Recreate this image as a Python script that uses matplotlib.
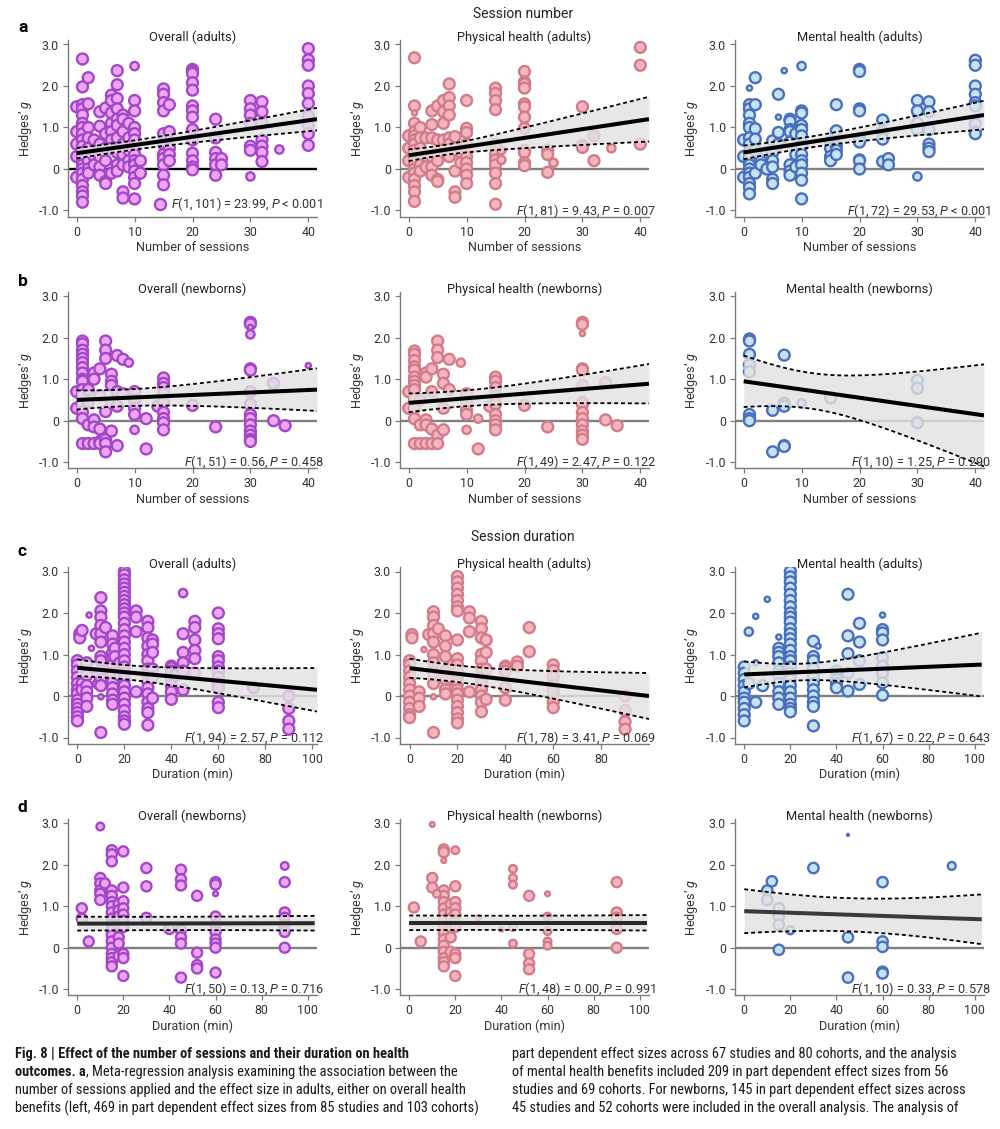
import matplotlib
matplotlib.use('Agg')
import matplotlib.pyplot as plt
import numpy as np
from matplotlib.lines import Line2D

plt.rcParams['font.family'] = ['Roboto', 'DejaVu Sans']
plt.rcParams['axes.unicode_minus'] = False
plt.rcParams['mathtext.fontset'] = 'custom'
plt.rcParams['mathtext.it'] = 'Roboto:italic'
plt.rcParams['mathtext.rm'] = 'Roboto'

# ---------------- data ----------------
# groups: (x, weight class 3=large 2=medium 1=small 0=tiny, [Hedges' g values])
a_overall = [
    (0, 3, [1.5, 0.9, 0.6, 0.3, -0.2]),
    (1, 3, [2.65, 1.98, 1.55, 1.45, 1.3, 1.1, 1.0, 0.85, 0.7, 0.55, 0.4, 0.3, 0.2, 0.1, 0.0, -0.1, -0.25, -0.4, -0.55, -0.65, -0.8]),
    (2, 3, [2.2, 1.57, 1.0, 0.75, 0.5, 0.2, 0.0, -0.1]),
    (3, 3, [0.7, 0.3, 0.1]),
    (4, 3, [1.38, 1.03, 0.6, 0.3, 0.05, -0.15]),
    (5, 3, [1.47, 0.85, 0.5, 0.2, -0.3, -0.35]),
    (6, 3, [1.78, 1.65, 1.35, 1.1, 0.9, 0.7, 0.5, -0.1]),
    (7, 3, [2.37, 2.03, 1.7, 1.45, 1.2, 1.05, 0.75, 0.4, 0.1, -0.05]),
    (8, 3, [1.3, 1.2, 0.9, 0.6, 0.35, 0.1, -0.55, -0.7]),
    (9, 3, [1.1, 0.75, 0.45, 0.2, 0.05]),
    (10, 3, [1.65, 1.4, 1.0, 0.85, 0.7, 0.5, 0.35, 0.2, 0.1, -0.05, -0.2, -0.35, -0.72]),
    (10, 2, [2.48]),
    (11, 3, [0.2, -0.1]),
    (15, 3, [1.93, 1.8, 1.6, 1.4, 0.85, 0.6, 0.35, 0.25, 0.1, -0.15, -0.38]),
    (16, 3, [1.55, 0.9, 0.5, 0.35, 0.2]),
    (20, 3, [2.4, 2.35, 2.3, 2.08, 1.9, 1.52, 1.4, 1.25, 0.95, 0.7, 0.38, 0.2, 0.05, -0.02]),
    (24, 3, [1.2, 0.75, 0.4, 0.25, 0.1, -0.15]),
    (25, 3, [0.25, 0.1]),
    (30, 3, [1.65, 1.45, 1.3, 1.1, 0.55, 0.45]),
    (30, 2, [-0.18]),
    (32, 3, [1.62, 1.38, 1.1, 0.7, 0.55, 0.4, 0.18]),
    (35, 2, [0.47]),
    (40, 3, [2.9, 2.63, 2.5, 2.0, 1.82, 1.58, 1.28, 1.05, 0.85, 0.57]),
]
a_physical = [
    (0, 3, [0.8, 0.5, 0.2, -0.2]),
    (1, 3, [2.68, 1.52, 1.1, 0.9, 0.8, 0.7, 0.6, 0.45, 0.3, 0.15, 0.0, -0.1, -0.25, -0.4, -0.55, -0.78]),
    (1, 1, [1.35]),
    (2, 3, [1.0, 0.75, 0.5, 0.1, -0.05]),
    (3, 3, [0.75, 0.3, 0.05]),
    (4, 3, [1.4, 1.07, 0.75, 0.3, 0.05, -0.15]),
    (5, 3, [1.52, 0.7, 0.4, 0.2, -0.25, -0.3]),
    (6, 3, [1.65, 1.38, 1.1, 0.7]),
    (7, 3, [2.05, 1.72, 1.52, 1.3, 0.75, 0.6, 0.3]),
    (8, 3, [0.78, 0.5, -0.05, -0.55, -0.68]),
    (9, 3, [0.4, 0.15]),
    (10, 3, [1.65, 0.98, 0.88, 0.6, 0.45, 0.3, 0.15, 0.0, -0.15, -0.35]),
    (15, 3, [1.95, 1.82, 1.65, 1.43, 0.6, 0.35, 0.22, 0.1, -0.1, -0.35, -0.85]),
    (16, 2, [0.45, 0.22]),
    (20, 3, [2.35, 2.1, 2.05, 1.95, 1.57, 1.5, 1.25, 0.98, 0.45, 0.4, 0.15, 0.08]),
    (24, 3, [0.45, 0.35, -0.08]),
    (25, 2, [0.15]),
    (30, 3, [1.5, 0.57, 0.52]),
    (32, 3, [0.8, 0.2]),
    (35, 2, [0.5]),
    (40, 3, [2.93, 2.5, 0.6]),
]
a_mental = [
    (0, 3, [0.7, 0.3, -0.2]),
    (1, 3, [1.55, 1.45, 1.3, 1.1, 1.0, 0.75, 0.6, 0.4, 0.25, 0.1, 0.0, -0.1, -0.2, -0.35, -0.45, -0.6]),
    (1, 1, [1.95]),
    (2, 3, [2.2, 1.55, 0.97, 0.72, 0.45, -0.1]),
    (3, 3, [0.2, 0.1]),
    (4, 3, [0.4, 0.0]),
    (5, 3, [0.68, 0.4, 0.2, 0.05, -0.25, -0.35]),
    (6, 3, [1.8, 0.88, 0.6]),
    (6, 1, [1.25]),
    (7, 1, [2.37]),
    (8, 3, [1.2, 1.15, 0.95, 0.9, 0.65, 0.1, -0.05, -0.15]),
    (9, 3, [0.85, 0.35, 0.05]),
    (10, 3, [1.4, 1.35, 1.05, 0.95, 0.8, 0.55, 0.35, 0.2, 0.1, -0.1, -0.27, -0.72]),
    (10, 2, [2.48]),
    (15, 3, [0.65, 0.5, 0.3, 0.2]),
    (16, 3, [1.55, 0.92, 0.55, 0.45, 0.35]),
    (20, 3, [2.4, 2.35, 1.45, 1.4, 0.72, 0.65, 0.22, 0.2, 0.0]),
    (24, 3, [1.18, 0.9, 0.72, 0.18]),
    (25, 3, [0.25, 0.1]),
    (30, 3, [1.65, 1.4, 1.1, 0.95]),
    (30, 2, [-0.18]),
    (32, 3, [1.62, 1.38, 0.95, 0.6, 0.5, 0.42]),
    (40, 3, [2.62, 2.5, 2.0, 1.8, 1.6, 1.52, 1.08, 0.9, 0.85]),
]
b_overall = [
    (0, 3, [0.7, 0.3]),
    (1, 3, [1.92, 1.85, 1.7, 1.6, 1.5, 1.4, 1.28, 1.15, 1.0, 0.95, 0.75, 0.6, 0.4, 0.2, 0.05, -0.55]),
    (2, 3, [0.75, 0.45, -0.1, -0.55]),
    (3, 3, [1.15, 1.0, 0.02, -0.15, -0.55]),
    (4, 3, [1.25, 0.6, -0.2, -0.5, -0.55]),
    (5, 3, [1.92, 1.7, 1.5, 0.22, -0.45, -0.55, -0.75]),
    (6, 3, [1.12, 0.95, 0.85, 0.45, -0.25]),
    (7, 3, [1.57, 0.7, 0.35, -0.6]),
    (8, 3, [1.48, 0.65]),
    (9, 2, [1.4]),
    (10, 3, [0.7, 0.5, 0.3, 0.15]),
    (10, 2, [-0.22]),
    (12, 3, [0.05, -0.68]),
    (14, 3, [0.35]),
    (15, 3, [1.03, 0.9, 0.8, 0.65, 0.45, 0.2, 0.05, -0.05, -0.22]),
    (20, 3, [0.37]),
    (24, 3, [-0.15]),
    (30, 3, [2.37, 2.33, 1.25, 1.22, 0.7, 0.4, 0.15, 0.05, -0.1, -0.25, -0.35, -0.45, -0.5]),
    (30, 2, [2.08]),
    (30, 1, [2.25]),
    (34, 3, [0.9, 0.0]),
    (36, 3, [-0.12]),
    (40, 1, [1.33]),
]
b_physical = [
    (0, 3, [0.7, 0.3]),
    (1, 3, [1.68, 1.6, 1.45, 1.3, 1.22, 1.05, 0.95, 0.85, 0.75, 0.5, 0.3, 0.05, -0.55]),
    (2, 3, [0.5, -0.1, -0.55]),
    (3, 3, [1.15, 1.05, 0.02, -0.1, -0.55]),
    (4, 3, [1.25, 0.7, -0.2, -0.55]),
    (5, 3, [1.92, 1.7, 1.52, -0.35, -0.55]),
    (6, 3, [1.12, 0.9, 0.3, -0.22]),
    (7, 3, [1.48, 0.75]),
    (9, 2, [1.4]),
    (10, 3, [0.65, 0.45, 0.25, 0.15]),
    (10, 2, [-0.22]),
    (12, 2, [0.05]),
    (12, 3, [-0.68]),
    (14, 3, [0.35]),
    (15, 3, [1.05, 0.95, 0.8, 0.6, 0.4, 0.15, 0.0, -0.1, -0.22]),
    (20, 3, [0.37]),
    (24, 3, [-0.15]),
    (30, 3, [2.37, 2.32, 1.25, 1.22, 0.85, 0.45, 0.4, 0.2, 0.05, -0.1, -0.25, -0.35, -0.45]),
    (30, 1, [2.1]),
    (34, 3, [0.92, 0.02]),
    (36, 3, [-0.12]),
]
b_mental = [
    (1, 3, [1.97, 1.92, 1.6, 1.35, 1.18, 0.15, 0.05, 0.0]),
    (5, 3, [0.25, -0.75]),
    (7, 3, [1.58, 0.42, 0.35, -0.6, -0.62]),
    (10, 2, [0.42]),
    (15, 3, [0.55]),
    (30, 3, [0.97, 0.78, -0.05]),
]
c_overall = [
    (0, 3, [0.85, 0.75, 0.6, 0.45, 0.3, 0.15, 0.05, -0.1, -0.2, -0.3, -0.4, -0.5, -0.6]),
    (1, 3, [1.5, 1.4]),
    (2, 3, [1.58, 0.3, 0.15]),
    (4, 3, [0.8, 0.5, 0.25, 0.1, -0.05, -0.25]),
    (5, 1, [1.95]),
    (6, 1, [1.15]),
    (8, 3, [1.5]),
    (9, 3, [0.55, 0.3]),
    (10, 3, [2.37, 2.05, 1.9, 1.7, 1.5, 1.3, 0.95, 0.85, 0.6, 0.4, 0.25, -0.88]),
    (10, 1, [-0.02]),
    (12, 3, [1.65]),
    (15, 3, [1.45, 1.25, 1.05, 0.9, 0.75, 0.55, 0.35, 0.2, 0.05, -0.1, -0.2]),
    (16, 3, [1.15, 0.95]),
    (18, 3, [0.8, 0.5]),
    (20, 3, [3.0, 2.92, 2.8, 2.7, 2.6, 2.5, 2.4, 2.3, 2.2, 2.1, 2.0, 1.9, 1.75, 1.6, 1.45, 1.3, 1.15, 1.0, 0.85, 0.7, 0.55, 0.4, 0.25, 0.1, -0.05, -0.2, -0.35, -0.5, -0.6, -0.68]),
    (25, 3, [2.05, 1.9, 1.55, 0.1]),
    (30, 3, [1.8, 1.65, 1.4, 1.2, 1.0, 0.85, 0.65, 0.5, 0.35, 0.2, 0.05, -0.15, -0.3, -0.4, -0.7]),
    (32, 3, [1.35, 1.25, 1.05, 0.65, 0.45, -0.05]),
    (40, 3, [0.72, 0.68, 0.6, 0.4, 0.25, 0.1, -0.08]),
    (42, 3, [0.6, 0.5]),
    (45, 2, [2.48]),
    (45, 3, [1.5, 1.05, 0.8, 0.6, 0.15]),
    (50, 3, [1.8, 1.65, 1.35, 1.1, 0.9, 0.55]),
    (60, 3, [2.0, 1.62, 1.5, 1.38, 0.95, 0.85, 0.7, 0.6, 0.45, 0.3, 0.2, -0.15, -0.28]),
    (75, 3, [0.2]),
    (90, 3, [0.0, -0.3, -0.6, -0.8]),
]
c_physical = [
    (0, 3, [0.85, 0.75, 0.6, 0.45, 0.3, 0.15, 0.0, -0.15, -0.3, -0.45, -0.52]),
    (1, 3, [1.48, 1.4]),
    (4, 3, [0.1, -0.05, -0.25]),
    (6, 1, [1.12]),
    (8, 3, [1.48]),
    (10, 3, [2.03, 1.9, 1.7, 1.5, 1.3, 1.0, 0.8, 0.55, 0.3, -0.88]),
    (10, 1, [-0.02]),
    (12, 3, [1.62]),
    (15, 3, [1.45, 1.2, 0.95, 0.6, 0.4, 0.15, 0.05]),
    (18, 3, [0.75, 0.4]),
    (20, 3, [2.88, 2.75, 2.6, 2.45, 2.3, 2.15, 2.05, 1.35, 0.9, 0.75, 0.6, 0.45, 0.3, 0.15, 0.05, -0.1, -0.25, -0.4, -0.55, -0.65]),
    (25, 3, [2.03, 1.88, 1.55, 0.1]),
    (30, 3, [1.8, 1.62, 1.4, 1.0, 0.85, 0.65, 0.45, 0.3, 0.15, 0.0, -0.15, -0.38]),
    (32, 3, [1.35, 1.05, 0.65, -0.08]),
    (40, 3, [0.72, 0.68, 0.6, 0.2, -0.1]),
    (45, 3, [0.82, 0.72]),
    (50, 3, [1.65, 1.07]),
    (60, 3, [0.75, 0.62, 0.45, 0.25, 0.1, -0.15, -0.28]),
    (90, 3, [0.0, -0.35, -0.62, -0.8]),
]
c_mental = [
    (0, 3, [0.7, 0.55, 0.4, 0.25, 0.1, -0.05, -0.15, -0.3, -0.45, -0.6]),
    (2, 2, [1.55]),
    (2, 3, [0.3]),
    (5, 1, [1.92, 0.8]),
    (5, 3, [-0.15]),
    (8, 3, [0.25]),
    (10, 1, [2.33]),
    (15, 1, [1.42]),
    (15, 3, [1.15, 1.05, 0.95, 0.8, 0.6, 0.5, 0.3, 0.1, -0.05, -0.2]),
    (20, 3, [3.0, 2.87, 2.75, 2.6, 2.45, 2.3, 2.15, 2.0, 1.9, 1.78, 1.62, 1.5, 1.38, 1.25, 1.1, 0.95, 0.85, 0.7, 0.55, 0.4, 0.25, 0.1, -0.05, -0.2, -0.3, -0.38]),
    (30, 3, [1.32, 0.95, 0.85, 0.65, 0.45, 0.3, 0.15, 0.0, -0.15, -0.25, -0.72]),
    (32, 1, [1.2]),
    (40, 3, [0.6, 0.4, 0.3, 0.2]),
    (45, 3, [2.45, 1.45, 1.02, 0.55, 0.12]),
    (50, 3, [1.75, 1.3, 0.85, 0.28]),
    (60, 1, [1.95]),
    (60, 3, [1.6, 1.52, 1.35, 0.92, 0.72, 0.55, 0.32, 0.02]),
]
d_overall = [
    (2, 3, [0.95, 0.7]),
    (5, 3, [0.15]),
    (10, 2, [2.92]),
    (10, 3, [1.68, 1.55, 1.38, 1.3, 1.15]),
    (12, 3, [1.55]),
    (15, 3, [2.35, 2.25, 2.08, 1.38, 1.25, 1.1, 1.0, 0.85, 0.7, 0.55, 0.42, 0.3, 0.15, 0.0, -0.15, -0.25, -0.35, -0.45]),
    (18, 3, [1.05, 0.9, 0.75, 0.55, 0.25, 0.1, -0.2]),
    (20, 3, [2.32, 1.45, 1.12, 0.95, 0.8, 0.65, 0.5, -0.15, -0.25, -0.68]),
    (30, 3, [1.92, 1.48, 0.72]),
    (40, 3, [0.45]),
    (45, 3, [1.88, 1.65, 1.5, 0.42, 0.25, 0.1, -0.72]),
    (52, 3, [1.25, -0.12, -0.42, -0.5]),
    (60, 3, [1.58, 1.52, 0.75, 0.55, 0.38, 0.2, 0.1, 0.0, -0.6]),
    (60, 1, [1.3]),
    (90, 2, [1.97]),
    (90, 3, [1.58, 0.85, 0.72, 0.55, 0.38, 0.0]),
]
d_physical = [
    (2, 3, [0.97]),
    (5, 3, [0.15]),
    (10, 1, [2.97]),
    (10, 3, [1.68, 1.45]),
    (12, 2, [1.3]),
    (15, 3, [2.37, 2.3, 1.38, 1.25, 1.1, 0.95, 0.8, 0.65, 0.5, 0.35, 0.2, 0.05, -0.1, -0.25, -0.35, -0.45]),
    (15, 1, [2.1]),
    (18, 3, [1.05, 0.85, 0.7, 0.5, 0.25, -0.1]),
    (20, 2, [2.35]),
    (20, 3, [1.48, 1.1, 0.95, 0.8, 0.6, 0.5, -0.15, -0.25, -0.68]),
    (30, 1, [0.72]),
    (40, 1, [0.45]),
    (45, 2, [1.9, 1.68, 1.52, 0.5, 0.1]),
    (52, 3, [1.25, -0.15, -0.38, -0.52]),
    (60, 1, [1.3]),
    (60, 2, [0.75, 0.4, 0.15, 0.05]),
    (90, 3, [1.58, 0.85, 0.72, 0.45, 0.0]),
]
d_mental = [
    (10, 3, [1.38, 1.15]),
    (12, 3, [1.6]),
    (15, 3, [0.95, 0.75, 0.55, -0.05]),
    (20, 2, [0.42]),
    (30, 3, [1.92]),
    (45, 0, [2.72]),
    (45, 3, [0.25, -0.72]),
    (60, 3, [1.58, 0.15, 0.02, -0.58, -0.62]),
    (90, 2, [1.97]),
]

# meta-regression: intercept, slope, CI min half-width, x of min, CI curvature, x end
reg_a_overall = (0.38, 0.0198, 0.11, 8, 0.0074, 41.5)
reg_a_physical = (0.33, 0.0210, 0.12, 5, 0.0144, 41.5)
reg_a_mental = (0.40, 0.0217, 0.13, 10, 0.0101, 41.5)
reg_b_overall = (0.50, 0.0060, 0.20, 8, 0.0141, 41.5)
reg_b_physical = (0.43, 0.0111, 0.19, 9, 0.0134, 41.5)
reg_b_mental = (0.95, -0.0198, 0.43, 11.6, 0.0385, 41.5)
reg_c_overall = (0.68, -0.0052, 0.17, 18, 0.0059, 102)
reg_c_physical = (0.67, -0.0067, 0.20, 18, 0.0063, 100)
reg_c_mental = (0.52, 0.0023, 0.20, 25, 0.0095, 103)
reg_d_overall = (0.58, 0.0001, 0.16, 40, 0.0012, 103)
reg_d_physical = (0.60, 0.0000, 0.17, 40, 0.0012, 103)
reg_d_mental = (0.88, -0.0019, 0.40, 45, 0.0077, 103)

stats = {
    'a_overall': '$\\mathit{F}$(1, 101) = 23.99, $\\mathit{P}$ < 0.001',
    'a_physical': '$\\mathit{F}$(1, 81) = 9.43, $\\mathit{P}$ = 0.007',
    'a_mental': '$\\mathit{F}$(1, 72) = 29.53, $\\mathit{P}$ < 0.001',
    'b_overall': '$\\mathit{F}$(1, 51) = 0.56, $\\mathit{P}$ = 0.458',
    'b_physical': '$\\mathit{F}$(1, 49) = 2.47, $\\mathit{P}$ = 0.122',
    'b_mental': '$\\mathit{F}$(1, 10) = 1.25, $\\mathit{P}$ = 0.290',
    'c_overall': '$\\mathit{F}$(1, 94) = 2.57, $\\mathit{P}$ = 0.112',
    'c_physical': '$\\mathit{F}$(1, 78) = 3.41, $\\mathit{P}$ = 0.069',
    'c_mental': '$\\mathit{F}$(1, 67) = 0.22, $\\mathit{P}$ = 0.643',
    'd_overall': '$\\mathit{F}$(1, 50) = 0.13, $\\mathit{P}$ = 0.716',
    'd_physical': '$\\mathit{F}$(1, 48) = 0.00, $\\mathit{P}$ = 0.991',
    'd_mental': '$\\mathit{F}$(1, 10) = 0.33, $\\mathit{P}$ = 0.578',
}
titles_adults = ['Overall (adults)', 'Physical health (adults)', 'Mental health (adults)']
titles_newborns = ['Overall (newborns)', 'Physical health (newborns)', 'Mental health (newborns)']
ytick_vals = [-1, 0, 1, 2, 3]
ytick_labels = ['-1.0', '0', '1.0', '2.0', '3.0']
session_ticks = [0, 10, 20, 30, 40]
duration_ticks = [0, 20, 40, 60, 80, 100]

caption_left = [
    [('Fig. 8 | Effect of the number of sessions and their duration on health', 'bold')],
    [('outcomes. a', 'bold'), (', Meta-regression analysis examining the association between the', 'normal')],
    [('number of sessions applied and the effect size in adults, either on overall health', 'normal')],
    [('benefits (left, 469 in part dependent effect sizes from 85 studies and 103 cohorts)', 'normal')],
]
caption_right = [
    'part dependent effect sizes across 67 studies and 80 cohorts, and the analysis',
    'of mental health benefits included 209 in part dependent effect sizes from 56',
    'studies and 69 cohorts. For newborns, 145 in part dependent effect sizes across',
    '45 studies and 52 cohorts were included in the overall analysis. The analysis of',
]

# ---------------- styling ----------------
COL = {
    'overall': ('#A446C8', '#ECA6F4'),
    'physical': ('#D27C8A', '#F5B5BF'),
    'mental': ('#4A70BC', '#C6E3F5'),
}
SIZE = {3: 62, 2: 36, 1: 14, 0: 2}
FS_TICK = 8.9
FS_LAB = 9.1
FS_TITLE = 9.3

W, H = 1000, 1129
fig = plt.figure(figsize=(W / 100, H / 100), dpi=100)

col_left = [68, 400, 735]
ax_w = 249
row_zero = [169, 420.7, 696, 947.7]
unit = 41.5
ylim = (-1.15, 3.1)
ax_h = (ylim[1] - ylim[0]) * unit


def make_ax(r, c):
    top = row_zero[r] - ylim[1] * unit
    bottom = top + ax_h
    return fig.add_axes([col_left[c] / W, 1 - bottom / H, ax_w / W, ax_h / H]), top, bottom


def draw(r, c, groups, key, reg, title, stat, sessions=True, zero_color='#808080',
         legend=False, line_color='black', xlim=None, xticks=None, msize=1.0):
    ax, top, bottom = make_ax(r, c)
    edge, fill = COL[key]
    xs, ys, ss = [], [], []
    for gx, w, vals in sorted(groups, key=lambda g: -g[1]):
        for v in vals:
            xs.append(gx); ys.append(v); ss.append(SIZE[w] * msize)
    ax.scatter(xs, ys, s=ss, facecolor=fill, edgecolor=edge, linewidths=1.7, zorder=2)
    ax.axhline(0, color=zero_color, lw=1.7, zorder=1)
    b0, b1, h0, xc, k, xend = reg
    xg = np.linspace(0, xend, 200)
    yhat = b0 + b1 * xg
    hw = np.sqrt(h0 ** 2 + (k * (xg - xc)) ** 2)
    ax.fill_between(xg, yhat - hw, yhat + hw, color='#e2e2e2', alpha=0.8, lw=0, zorder=3)
    ax.plot(xg, yhat + hw, color='black', lw=1.3, ls=(0, (2.2, 1.6)), zorder=4)
    ax.plot(xg, yhat - hw, color='black', lw=1.3, ls=(0, (2.2, 1.6)), zorder=4)
    ax.plot(xg, yhat, color=line_color, lw=2.9, zorder=5, solid_capstyle='butt')
    if sessions:
        ax.set_xlim(-1.5, 41.5)
        ax.set_xticks(session_ticks)
        ax.set_xlabel('Number of sessions', fontsize=FS_LAB, color='#333333')
    else:
        ax.set_xlim(*(xlim or (-4, 103)))
        ax.set_xticks(xticks or duration_ticks)
        ax.set_xlabel('Duration (min)', fontsize=FS_LAB, color='#333333')
    ax.set_ylim(*ylim)
    ax.set_yticks(ytick_vals)
    ax.set_yticklabels(ytick_labels)
    ax.set_ylabel('Hedges\u2019 $\\mathit{g}$', fontsize=FS_LAB, color='#333333')
    ax.xaxis.set_label_coords(0.5, -31 / ax_h)
    ax.xaxis.label.set_va('center')
    ax.yaxis.set_label_coords(-43 / ax_w, 0.5)
    ax.yaxis.label.set_va('center')
    for s in ['top', 'right']:
        ax.spines[s].set_visible(False)
    for s in ['left', 'bottom']:
        ax.spines[s].set_color('#7a7a7a')
        ax.spines[s].set_linewidth(1.0)
    ax.tick_params(direction='out', length=3.5, width=0.9, color='#7a7a7a',
                   labelsize=FS_TICK, labelcolor='#333333', pad=3)
    ax.patch.set_alpha(0)
    fig.text((col_left[c] + ax_w / 2) / W, 1 - (top - 3) / H, title, ha='center', va='center',
             fontsize=FS_TITLE, color='#222222')
    if legend:
        h = Line2D([], [], marker='o', ls='', markersize=8, markerfacecolor=fill,
                   markeredgecolor=edge, markeredgewidth=1.7)
        ax.legend([h], [stat], loc='lower right', frameon=False, fontsize=FS_LAB,
                  handletextpad=0.3, borderaxespad=0, borderpad=0,
                  bbox_to_anchor=((ax_w + 6) / ax_w, 0.02), labelcolor='#333333',
                  handlelength=1.2)
    else:
        ax.text((ax_w + 7) / ax_w, 0.035, stat, transform=ax.transAxes, ha='right', va='center',
                fontsize=FS_LAB, color='#333333', zorder=6)
    return ax


draw(0, 0, a_overall, 'overall', reg_a_overall, titles_adults[0], stats['a_overall'],
     zero_color='black', legend=True)
draw(0, 1, a_physical, 'physical', reg_a_physical, titles_adults[1], stats['a_physical'])
draw(0, 2, a_mental, 'mental', reg_a_mental, titles_adults[2], stats['a_mental'])
draw(1, 0, b_overall, 'overall', reg_b_overall, titles_newborns[0], stats['b_overall'])
draw(1, 1, b_physical, 'physical', reg_b_physical, titles_newborns[1], stats['b_physical'])
draw(1, 2, b_mental, 'mental', reg_b_mental, titles_newborns[2], stats['b_mental'])
draw(2, 0, c_overall, 'overall', reg_c_overall, titles_adults[0], stats['c_overall'],
     sessions=False, xlim=(-4, 102))
draw(2, 1, c_physical, 'physical', reg_c_physical, titles_adults[1], stats['c_physical'],
     sessions=False, xlim=(-4, 100), xticks=[0, 20, 40, 60, 80])
draw(2, 2, c_mental, 'mental', reg_c_mental, titles_adults[2], stats['c_mental'],
     sessions=False, xlim=(-4, 104))
draw(3, 0, d_overall, 'overall', reg_d_overall, titles_newborns[0], stats['d_overall'],
     sessions=False, line_color='#2a2a2a', xlim=(-4, 104), msize=0.85)
draw(3, 1, d_physical, 'physical', reg_d_physical, titles_newborns[1], stats['d_physical'],
     sessions=False, line_color='#2a2a2a', xlim=(-4, 104), msize=0.85)
draw(3, 2, d_mental, 'mental', reg_d_mental, titles_newborns[2], stats['d_mental'],
     sessions=False, line_color='#3a3a3a', xlim=(-4, 104), msize=0.9)

# section headers and panel letters
fig.text(523 / W, 1 - 14 / H, 'Session number', ha='center', va='center', fontsize=10, color='#222222')
fig.text(523 / W, 1 - 537 / H, 'Session duration', ha='center', va='center', fontsize=10, color='#222222')
for letter, py in zip(['a', 'b', 'c', 'd'], [28, 281, 551, 807]):
    fig.text(18 / W, 1 - py / H, letter, ha='left', va='center', fontsize=12.5,
             fontweight='bold', color='black')

# caption
cap_font = ['Liberation Sans Narrow', 'Roboto Condensed', 'DejaVu Sans']
cap_y = [1054, 1072, 1090, 1108]
CAP_FS = 10.4
renderer = fig.canvas.get_renderer()
for line, py in zip(caption_left, cap_y):
    xpos = 15
    for txt, wt in line:
        t = fig.text(xpos / W, 1 - py / H, txt, ha='left', va='center', fontsize=CAP_FS,
                     fontweight=wt, family=cap_font, color='#1a1a1a')
        bb = t.get_window_extent(renderer)
        xpos += bb.width
for txt, py in zip(caption_right, cap_y):
    fig.text(512 / W, 1 - py / H, txt, ha='left', va='center', fontsize=CAP_FS,
             family=cap_font, color='#1a1a1a')

fig.savefig('out.png', dpi=100)
